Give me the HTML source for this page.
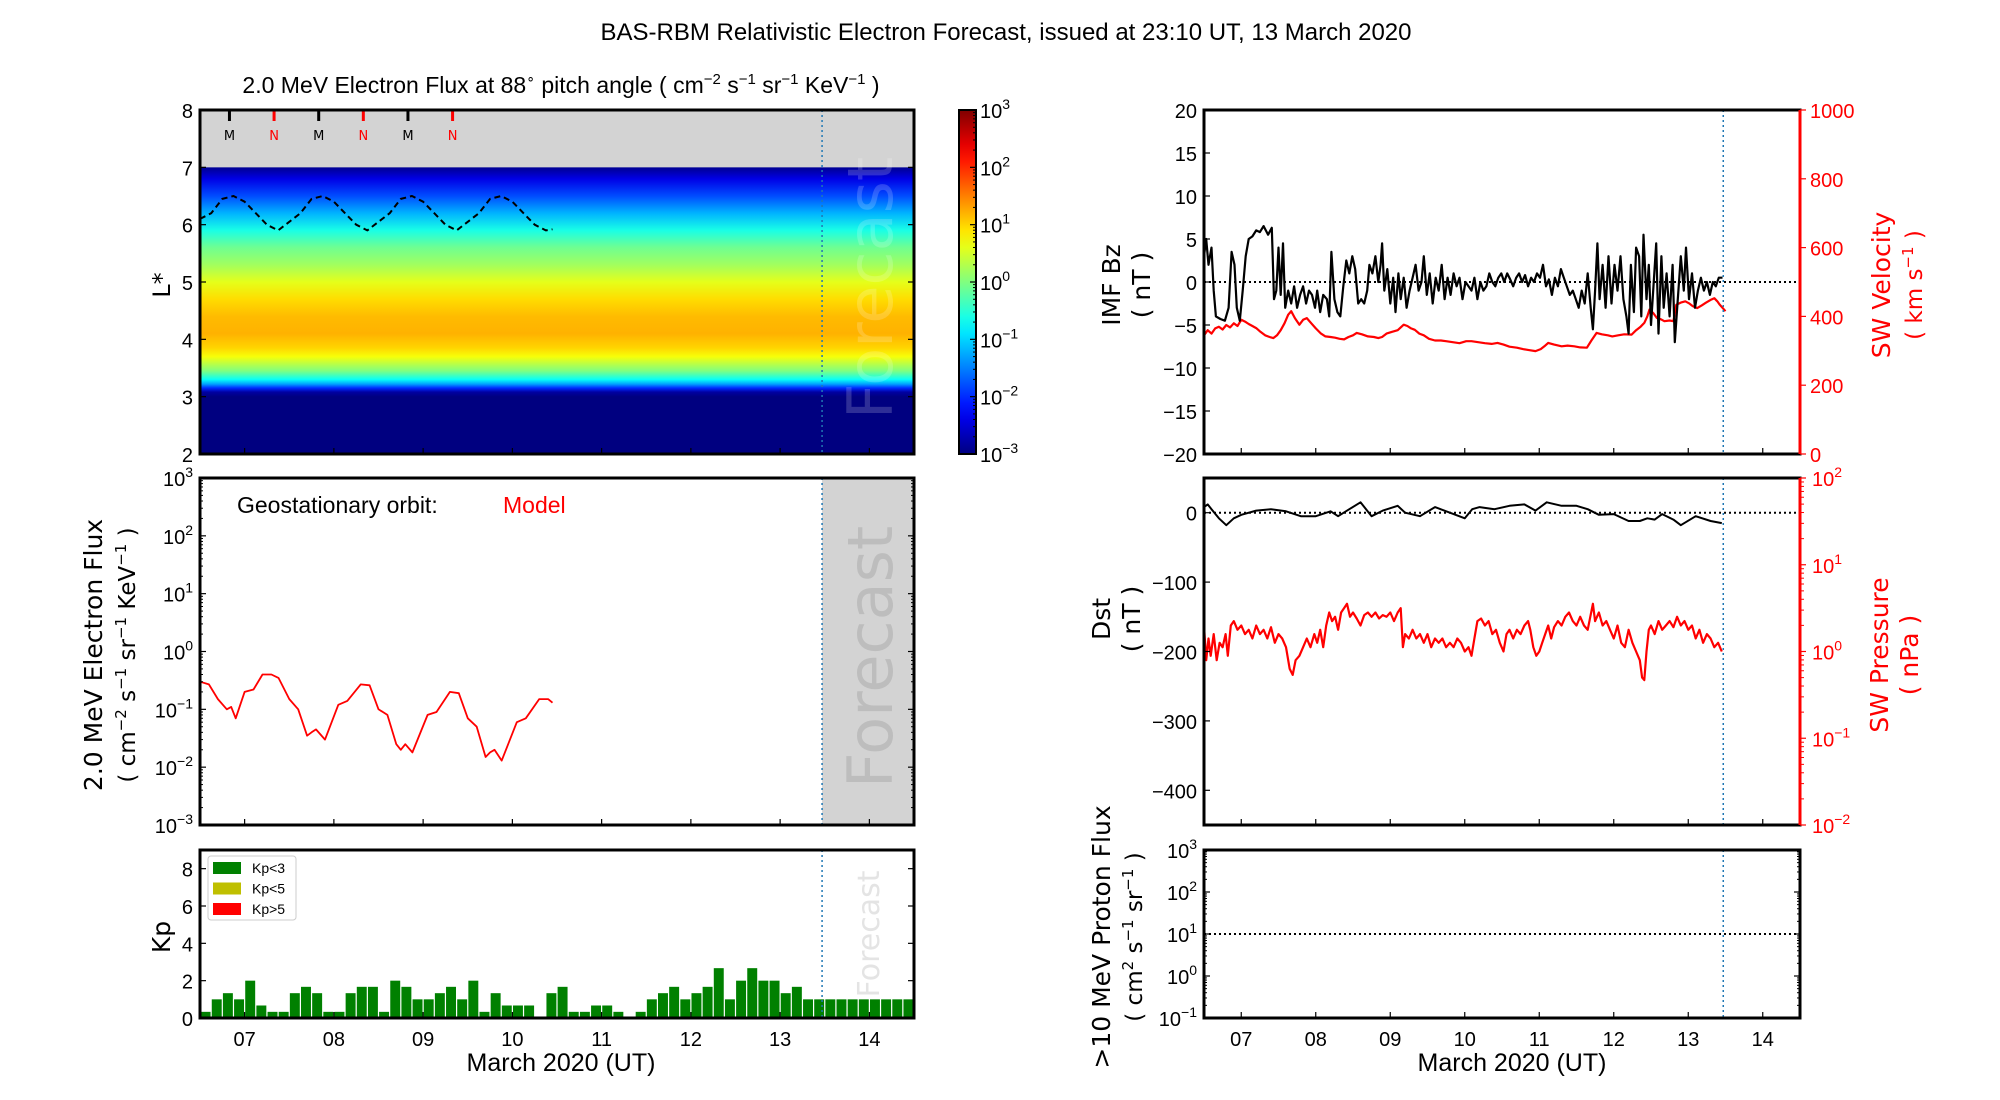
<!DOCTYPE html>
<html><head><meta charset="utf-8"><style>
html,body{margin:0;padding:0;background:#fff;}
svg{display:block;}
text{font-family:"Liberation Sans Narrow","Liberation Sans",sans-serif;}
.lab{font-family:"DejaVu Sans","Liberation Sans",sans-serif;}
</style></head><body>
<svg id="fig" width="2000" height="1100" viewBox="0 0 2000 1100" xmlns="http://www.w3.org/2000/svg">
<defs>
<linearGradient id="heatGrad" x1="0" y1="0" x2="0" y2="1"></linearGradient>
<linearGradient id="cbGrad" x1="0" y1="1" x2="0" y2="0"></linearGradient>
</defs>
<text x="1006" y="40" font-size="24" text-anchor="middle">BAS-RBM Relativistic Electron Forecast, issued at 23:10 UT, 13 March 2020</text>
<text x="561" y="93" font-size="23" text-anchor="middle">2.0 MeV Electron Flux at 88<tspan font-size="14" dy="-10">∘</tspan><tspan dy="10"> pitch angle ( cm</tspan><tspan font-size="15" dy="-9">−2</tspan><tspan dy="9"> s</tspan><tspan font-size="15" dy="-9">−1</tspan><tspan dy="9"> sr</tspan><tspan font-size="15" dy="-9">−1</tspan><tspan dy="9"> KeV</tspan><tspan font-size="15" dy="-9">−1</tspan><tspan dy="9"> )</tspan></text>
<g id="g"></g>
</svg>
<script>
// ---------- data ----------
const heatL   = [2.0, 3.0, 3.08, 3.15, 3.22, 3.3, 3.45, 3.7, 3.85, 4.1, 4.4, 4.7, 5.0, 5.3, 5.6, 5.9, 6.2, 6.5, 6.8, 7.0];
const heatLog = [-3, -3, -2.8, -2, -1.3, -0.7, 0, 0.7, 1.0, 1.2, 1.15, 0.95, 0.6, 0.2, -0.1, -0.6, -1.2, -1.8, -2.4, -2.9];
const geoT = [6.5,6.625,6.75,6.875,7.0,7.125,7.25,7.375,7.5,7.625,7.75,7.875,8.0,8.125,8.25,8.375,8.5,8.625,8.75,8.875,9.0,9.125,9.25,9.375,9.5,9.625,9.75,9.875,10.0,10.125,10.25,10.375,10.45];
const geoL = [6.1,6.2,6.45,6.5,6.4,6.2,6.0,5.9,6.05,6.2,6.45,6.5,6.4,6.2,6.0,5.9,6.05,6.2,6.45,6.5,6.4,6.2,6.0,5.9,6.05,6.2,6.45,6.5,6.4,6.2,6.0,5.9,5.92];
const mltT = [6.83, 7.33, 7.83, 8.33, 8.83, 9.33];
const mltLab = ["M","N","M","N","M","N"];
const efT = [6.5,6.6,6.7,6.8,6.85,6.9,7.0,7.1,7.2,7.3,7.38,7.5,7.6,7.7,7.75,7.8,7.9,8.05,8.15,8.3,8.4,8.5,8.6,8.7,8.75,8.8,8.88,9.05,9.15,9.3,9.4,9.5,9.6,9.7,9.75,9.8,9.88,10.05,10.15,10.3,10.4,10.45];
const efV = [0.3,0.27,0.15,0.1,0.11,0.07,0.2,0.22,0.4,0.4,0.35,0.15,0.1,0.035,0.04,0.045,0.03,0.12,0.14,0.27,0.26,0.1,0.08,0.025,0.02,0.025,0.018,0.08,0.09,0.2,0.19,0.07,0.05,0.015,0.018,0.02,0.013,0.06,0.07,0.15,0.15,0.13];
const kpVals = [0.33,1,1.33,1,2,0.67,0.33,0.33,1.33,1.67,1.33,0.33,0.33,1.33,1.67,1.67,0.33,2,1.67,1,1,1.33,1.67,1,2,0.33,1.33,0.67,0.67,0.67,0,1.33,1.67,0.33,0.33,0.67,0.67,0.33,0,0.33,1,1.33,1.67,1,1.33,1.67,2.67,1,2,2.67,2,2,1.33,1.67,1,1,1,1,1,1,1,1,1,1];
const bzT = [6.50,6.53,6.56,6.60,6.63,6.66,6.72,6.78,6.83,6.87,6.91,6.94,6.98,7.02,7.06,7.10,7.15,7.20,7.25,7.30,7.36,7.41,7.44,7.47,7.50,7.53,7.56,7.59,7.63,7.67,7.71,7.75,7.79,7.83,7.87,7.91,7.95,7.99,8.02,8.06,8.10,8.15,8.18,8.21,8.25,8.29,8.33,8.37,8.41,8.45,8.49,8.53,8.57,8.61,8.65,8.69,8.72,8.76,8.80,8.84,8.87,8.89,8.92,8.96,9.00,9.04,9.07,9.11,9.14,9.18,9.22,9.26,9.30,9.34,9.38,9.42,9.45,9.49,9.53,9.57,9.61,9.65,9.69,9.73,9.77,9.81,9.85,9.89,9.93,9.97,10.01,10.05,10.09,10.13,10.17,10.21,10.25,10.29,10.33,10.37,10.41,10.45,10.49,10.53,10.57,10.61,10.65,10.69,10.73,10.77,10.81,10.85,10.89,10.93,10.97,11.01,11.05,11.09,11.13,11.17,11.21,11.25,11.29,11.33,11.37,11.41,11.45,11.49,11.53,11.57,11.61,11.65,11.69,11.72,11.75,11.78,11.81,11.85,11.89,11.93,11.97,12.01,12.05,12.09,12.13,12.17,12.20,12.23,12.27,12.30,12.34,12.37,12.40,12.44,12.47,12.50,12.53,12.57,12.60,12.64,12.67,12.71,12.75,12.79,12.82,12.86,12.90,12.94,12.97,13.01,13.05,13.09,13.13,13.17,13.21,13.25,13.29,13.33,13.37,13.41,13.46];
const bzV = [3,5,2,4,-1,-4,-4.3,-4.5,-3,3.5,2,-3,-4.5,-1,3,5,5.3,6,5.8,6.5,5.5,6.3,-2,-1,4,-1.5,4.5,-3,-1,-2.5,-0.5,-3,-1.5,-0.5,-2.5,-1,-1.5,-3,-1,-3.5,-1.5,-2,-4,3.5,-2,-3.5,-4,-0.5,2.5,1,3,1.5,-2.5,-2,-2.5,-1,2,1,3,0,2,4.5,-1,1.5,-2.5,0.5,-3.5,1,-2,0.5,-3,-1,0.5,2,-1,0,3,-1.5,1,-2.5,0.5,-1,2,-2,0.5,-1.5,1,-0.5,0.5,-2,0,-0.5,-1,0.5,-2,0,-1,-0.5,1,0,-0.5,0.5,1,0,1,0.3,-0.5,0.5,1,0,0.8,-0.5,0.5,0,1,0.5,2,-0.5,0.3,-1.5,0.5,-0.5,1.5,0.5,-0.5,-1.5,-1,-2,-3,-1,-2.5,1,-3,-5.5,-1,4.5,-2,2,-3,3,-2.5,2,-1,3,-2,-4,-6,2,-3.5,4,3,-4,5.5,-2,2,-5,-1,4.5,-6,3,-3,1,-4,2,-7,-2,3,-1,4,-2,1,-3,-1,0.5,-1,0,-1.5,0,-0.5,0.5,0.5];
const vswT = [6.5,6.55,6.6,6.65,6.7,6.75,6.8,6.85,6.9,6.95,7.0,7.05,7.1,7.15,7.2,7.26,7.32,7.38,7.43,7.48,7.53,7.58,7.63,7.67,7.72,7.78,7.83,7.88,7.94,8.0,8.07,8.13,8.2,8.26,8.32,8.38,8.44,8.5,8.55,8.62,8.7,8.78,8.84,8.89,8.95,9.02,9.1,9.18,9.23,9.28,9.33,9.39,9.45,9.52,9.6,9.68,9.75,9.84,9.93,10.02,10.09,10.18,10.27,10.36,10.44,10.52,10.6,10.7,10.78,10.86,10.95,11.02,11.08,11.12,11.2,11.3,11.38,11.47,11.55,11.64,11.7,11.77,11.84,11.92,11.98,12.06,12.14,12.24,12.3,12.36,12.41,12.45,12.48,12.53,12.58,12.63,12.68,12.75,12.8,12.84,12.9,12.96,13.01,13.06,13.12,13.18,13.24,13.3,13.35,13.39,13.42,13.46,13.5];
const vswV = [345,360,350,365,370,362,375,368,380,372,390,385,378,372,366,355,345,340,337,345,360,380,405,415,395,376,390,395,380,365,350,342,340,338,335,333,340,345,352,348,342,340,337,340,350,355,360,376,372,365,361,350,345,335,330,330,328,325,322,328,328,325,322,320,323,318,312,309,305,302,299,305,315,323,318,313,315,313,310,309,330,352,348,345,342,345,348,347,360,370,381,400,420,410,395,392,386,388,386,434,440,444,438,430,424,432,440,448,453,444,435,425,415];
const dstT = [6.5,6.55,6.6,6.7,6.8,6.9,7.0,7.2,7.4,7.6,7.8,8.0,8.2,8.3,8.45,8.6,8.75,8.9,9.1,9.2,9.4,9.6,9.8,10.0,10.1,10.2,10.4,10.6,10.8,10.95,11.1,11.3,11.5,11.65,11.8,12.0,12.2,12.35,12.45,12.55,12.65,12.8,12.9,13.1,13.3,13.45];
const dstV = [8,12,5,-8,-18,-8,-3,3,5,2,-5,-5,2,-5,5,15,-5,3,10,0,-5,8,0,-8,5,8,5,10,12,3,15,10,10,5,-3,-2,-12,-12,-8,-10,-2,-10,-18,-5,-12,-15];
const pT = [6.50,6.53,6.56,6.59,6.63,6.67,6.71,6.75,6.79,6.82,6.86,6.90,6.95,7.0,7.05,7.1,7.15,7.2,7.25,7.3,7.35,7.4,7.45,7.5,7.55,7.6,7.65,7.69,7.73,7.78,7.83,7.88,7.93,7.98,8.02,8.06,8.1,8.14,8.18,8.22,8.26,8.3,8.34,8.38,8.42,8.46,8.5,8.55,8.6,8.65,8.7,8.75,8.8,8.85,8.9,8.95,9.0,9.05,9.1,9.14,9.17,9.2,9.25,9.3,9.35,9.4,9.45,9.5,9.55,9.6,9.65,9.7,9.75,9.8,9.85,9.9,9.95,10.0,10.05,10.09,10.13,10.17,10.22,10.27,10.32,10.37,10.42,10.47,10.52,10.56,10.6,10.65,10.7,10.75,10.8,10.85,10.88,10.92,10.96,11.0,11.04,11.08,11.12,11.16,11.2,11.25,11.3,11.35,11.4,11.45,11.5,11.55,11.6,11.65,11.72,11.75,11.8,11.85,11.9,11.95,12.0,12.05,12.1,12.15,12.2,12.25,12.3,12.35,12.38,12.41,12.44,12.47,12.5,12.55,12.6,12.65,12.7,12.75,12.8,12.85,12.9,12.95,13.0,13.05,13.1,13.15,13.2,13.25,13.3,13.35,13.4,13.45];
const pLog = [0.3,-0.1,0.15,-0.05,0.2,-0.1,0.1,0.05,0.2,-0.05,0.3,0.35,0.25,0.3,0.2,0.25,0.15,0.3,0.2,0.25,0.15,0.28,0.1,0.2,0.15,0.05,-0.2,-0.27,-0.1,-0.05,0.05,0.15,0.05,0.2,0.1,0.25,0.05,0.3,0.45,0.35,0.4,0.25,0.45,0.5,0.55,0.4,0.45,0.38,0.3,0.42,0.45,0.4,0.45,0.38,0.42,0.4,0.45,0.35,0.45,0.5,0.05,0.2,0.15,0.25,0.15,0.2,0.1,0.2,0.05,0.15,0.1,0.15,0.05,0.1,0.05,0.15,0.1,0.0,0.05,-0.05,0.15,0.35,0.38,0.3,0.35,0.2,0.25,0.1,0.0,0.2,0.25,0.15,0.25,0.2,0.3,0.35,0.25,0.05,-0.05,0.0,0.1,0.2,0.3,0.15,0.28,0.35,0.3,0.4,0.45,0.35,0.3,0.4,0.3,0.25,0.55,0.35,0.45,0.3,0.35,0.25,0.15,0.3,0.1,0.05,0.25,0.1,0.0,-0.1,-0.3,-0.33,0.0,0.25,0.3,0.2,0.35,0.25,0.3,0.35,0.28,0.4,0.3,0.35,0.25,0.3,0.15,0.25,0.1,0.2,0.15,0.05,0.1,0.0];
const dayTicks = [7,8,9,10,11,12,13,14];
const dayLabels = ["07","08","09","10","11","12","13","14"];
const forecastDay = 13.47;

// ---------- scales ----------
const xL = d => 200 + (d - 6.5) * 89.25;
const xR = d => 1204 + (d - 6.5) * 74.5;
const yHeat = L => 110 + (8 - L) * (344 / 6);
const yEf = v => 478 + (3 - Math.log10(v)) * (347 / 6);
const yKp = k => 1018 - k * (168 / 9);
const yBz = v => 110 + (20 - v) * (344 / 40);
const yVsw = v => 454 - v * (344 / 1000);
const yDst = v => 478 + (50 - v) * (347 / 500);
const yP = l => 478 + (2 - l) * (347 / 4);
const yProt = l => 850 + (3 - l) * (168 / 4);

const NS = "http://www.w3.org/2000/svg";
const G = document.getElementById("g");
function el(tag, attrs, parent) {
  const e = document.createElementNS(NS, tag);
  for (const k in attrs) e.setAttribute(k, attrs[k]);
  (parent || G).appendChild(e);
  return e;
}
function jet(v) {
  const c = x => Math.max(0, Math.min(1, x));
  const r = c(1.5 - Math.abs(4 * v - 3)), g = c(1.5 - Math.abs(4 * v - 2)), b = c(1.5 - Math.abs(4 * v - 1));
  return "rgb(" + Math.round(r * 255) + "," + Math.round(g * 255) + "," + Math.round(b * 255) + ")";
}
function txt(x, y, s, size, anchor, fill, cls) {
  const t = el("text", {x: x, y: y, "font-size": size, "text-anchor": anchor || "start", fill: fill || "#000"});
  if (cls) t.setAttribute("class", cls);
  t.textContent = s;
  return t;
}
function pow10(x, y, e, fill, anchor) {
  const t = el("text", {x: x, y: y, "font-size": 20, "text-anchor": anchor || "end", fill: fill || "#000"});
  
  
  const a = document.createElementNS(NS, "tspan"); a.textContent = "10"; t.appendChild(a);
  const b = document.createElementNS(NS, "tspan"); b.setAttribute("font-size", "14"); b.setAttribute("dy", "-9");
  b.textContent = e; t.appendChild(b);
  return t;
}
function vlab(x, y, s, size, fill) {
  const t = el("text", {x: 0, y: 0, "font-size": size, "text-anchor": "middle", fill: fill || "#000", transform: "translate(" + x + "," + y + ") rotate(-90)", "class": "lab"});
  t.textContent = s;
  return t;
}
function line(pts, color, w, extra) {
  return el("polyline", Object.assign({points: pts.map(q => q[0].toFixed(1) + "," + q[1].toFixed(1)).join(" "), fill: "none", stroke: color, "stroke-width": w, "stroke-linejoin": "round"}, extra || {}));
}
function frame(x0, y0, x1, y1, name) {
  const r = el("rect", {x: x0, y: y0, width: x1 - x0, height: y1 - y0, fill: "none", stroke: "#000", "stroke-width": 3});
  
  
}
function xTicks(xf, y0, y1, labels) {
  dayTicks.forEach((d, i) => {
    el("line", {x1: xf(d), x2: xf(d), y1: y1, y2: y1 - 6, stroke: "#000", "stroke-width": 1.2});
    if (labels) {
      const t = txt(xf(d), y1 + 28, dayLabels[i], 20, "middle");
      
      
    }
  });
}
function logMinor(xl, xr, yf, lo, hi, side) {
  for (let e = lo; e < hi; e++) for (let m = 2; m < 10; m++) {
    const y = yf(e + Math.log10(m));
    if (side !== "right") el("line", {x1: xl, x2: xl + 3, y1: y, y2: y, stroke: "#000", "stroke-width": 1});
    el("line", {x1: xr, x2: xr - 3, y1: y, y2: y, stroke: "#000", "stroke-width": 1});
  }
}

// ---------- Heatmap panel ----------
const hg = document.getElementById("heatGrad");
for (let i = heatL.length - 1; i >= 0; i--) {
  const s = document.createElementNS(NS, "stop");
  s.setAttribute("offset", ((7 - heatL[i]) / 5).toFixed(4));
  s.setAttribute("stop-color", jet((heatLog[i] + 3) / 6));
  hg.appendChild(s);
}
el("rect", {x: 200, y: 110, width: 714, height: yHeat(7) - 110, fill: "#d3d3d3"});
const heat = el("rect", {x: 200, y: yHeat(7), width: 714, height: yHeat(2) - yHeat(7), fill: "url(#heatGrad)"});


const fc1 = el("text", {x: 0, y: 0, "font-size": 62, fill: "#fff", "fill-opacity": 0.18, "text-anchor": "middle", "class": "lab", transform: "translate(892,288) rotate(-90)"});
fc1.textContent = "Forecast";


const geo = line(geoT.map((t, i) => [xL(t), yHeat(geoL[i])]), "#000", 2, {"stroke-dasharray": "6,4"});


mltT.forEach((t, i) => {
  const c = mltLab[i] === "M" ? "#000" : "#f00";
  el("line", {x1: xL(t), x2: xL(t), y1: 110, y2: 121, stroke: c, "stroke-width": 3});
  const m = txt(xL(t), 140, mltLab[i], 13, "middle", c, "lab");
  
  
});
el("line", {x1: xL(forecastDay), x2: xL(forecastDay), y1: 110, y2: 454, stroke: "#1f77b4", "stroke-width": 1.5, "stroke-dasharray": "2,3"});
frame(200, 110, 914, 454, "heatmap-frame");
[2,3,4,5,6,7,8].forEach(L => {
  el("line", {x1: 200, x2: 206, y1: yHeat(L), y2: yHeat(L), stroke: "#000", "stroke-width": 1.2});
  el("line", {x1: 914, x2: 908, y1: yHeat(L), y2: yHeat(L), stroke: "#000", "stroke-width": 1.2});
  const t = txt(193, yHeat(L) + 8, String(L), 20, "end");
  
  
});
xTicks(xL, 110, 454, false);
const ls = vlab(170, 285, "L*", 24);  

// Colorbar
const cg = document.getElementById("cbGrad");
for (let i = 0; i <= 20; i++) {
  const s = document.createElementNS(NS, "stop");
  s.setAttribute("offset", (i / 20).toFixed(3));
  s.setAttribute("stop-color", jet(i / 20));
  cg.appendChild(s);
}
const cb = el("rect", {x: 959, y: 110, width: 17, height: 344, fill: "url(#cbGrad)", stroke: "#000", "stroke-width": 2});


const yCb = l => 454 - (l + 3) * (344 / 6);
[-3,-2,-1,0,1,2,3].forEach(e => {
  el("line", {x1: 970, x2: 976, y1: yCb(e), y2: yCb(e), stroke: "#000", "stroke-width": 1.2});
  pow10(980, yCb(e) + 8, e < 0 ? "−" + (-e) : String(e), "#000", "start");
});
for (let e = -3; e < 3; e++) for (let m = 2; m < 10; m++) el("line", {x1: 973, x2: 976, y1: yCb(e + Math.log10(m)), y2: yCb(e + Math.log10(m)), stroke: "#000", "stroke-width": 1});

// ---------- Electron flux panel ----------
el("rect", {x: xL(forecastDay), y: 478, width: 914 - xL(forecastDay), height: 347, fill: "#d3d3d3"});
const fc2 = el("text", {x: 0, y: 0, "font-size": 62, fill: "#bdbdbd", "text-anchor": "middle", "class": "lab", transform: "translate(892,657) rotate(-90)"});
fc2.textContent = "Forecast";


el("line", {x1: xL(forecastDay), x2: xL(forecastDay), y1: 478, y2: 825, stroke: "#1f77b4", "stroke-width": 1.5, "stroke-dasharray": "2,3"});
const ef = line(efT.map((t, i) => [xL(t), yEf(efV[i])]), "#f00", 1.8);


frame(200, 478, 914, 825, "electron-flux-frame");
[-3,-2,-1,0,1,2,3].forEach(e => {
  const y = yEf(Math.pow(10, e));
  el("line", {x1: 200, x2: 206, y1: y, y2: y, stroke: "#000", "stroke-width": 1.2});
  el("line", {x1: 914, x2: 908, y1: y, y2: y, stroke: "#000", "stroke-width": 1.2});
  pow10(193, y + 8, e < 0 ? "−" + (-e) : String(e));
});
logMinor(200, 914, l => yEf(Math.pow(10, l)), -3, 3);
xTicks(xL, 478, 825, false);
const go = txt(237, 513, "Geostationary orbit:", 23, "start");  
const md = txt(503, 513, "Model", 23, "start", "#f00");  
const efl = vlab(102, 655, "2.0 MeV Electron Flux", 25);  
const efu = el("text", {x: 0, y: 0, "font-size": 23, "text-anchor": "middle", "class": "lab", transform: "translate(135,655) rotate(-90)"});
efu.innerHTML = '( cm<tspan font-size="15" dy="-9">−2</tspan><tspan dy="9"> s</tspan><tspan font-size="15" dy="-9">−1</tspan><tspan dy="9"> sr</tspan><tspan font-size="15" dy="-9">−1</tspan><tspan dy="9"> KeV</tspan><tspan font-size="15" dy="-9">−1</tspan><tspan dy="9"> )</tspan>';



// ---------- Kp panel ----------
const fc3 = el("text", {x: 0, y: 0, "font-size": 30, fill: "#e4e4e4", "text-anchor": "middle", "class": "lab", transform: "translate(879,934) rotate(-90)"});
fc3.textContent = "Forecast";


const bw = 89.25 / 8;
kpVals.forEach((k, i) => {
  const t0 = 6.5 + i * 0.125;
  const color = k < 3 ? "#008000" : (k < 5 ? "#bfbf00" : "#f00");
  const b = el("rect", {x: xL(t0) + 0.6, y: yKp(k), width: bw - 1.2, height: yKp(0) - yKp(k), fill: color});
  
  
});
el("line", {x1: xL(forecastDay), x2: xL(forecastDay), y1: 850, y2: 1018, stroke: "#1f77b4", "stroke-width": 1.5, "stroke-dasharray": "2,3"});
frame(200, 850, 914, 1018, "kp-frame");
[0,2,4,6,8].forEach(k => {
  el("line", {x1: 200, x2: 206, y1: yKp(k), y2: yKp(k), stroke: "#000", "stroke-width": 1.2});
  el("line", {x1: 914, x2: 908, y1: yKp(k), y2: yKp(k), stroke: "#000", "stroke-width": 1.2});
  const t = txt(193, yKp(k) + 8, String(k), 20, "end");
  
  
});
xTicks(xL, 850, 1018, true);
const kpl = vlab(170, 937, "Kp", 25);  
const leg = el("g", {});


el("rect", {x: 208, y: 856, width: 88, height: 64, fill: "#fff", stroke: "#ccc", "stroke-width": 1, rx: 3}, leg);
[["Kp<3", "#008000"], ["Kp<5", "#bfbf00"], ["Kp>5", "#f00"]].forEach((e, i) => {
  const r = el("rect", {x: 213, y: 862 + i * 20.5, width: 28, height: 12, fill: e[1]}, leg);
  
  
  const t = el("text", {x: 252, y: 873 + i * 20.5, "font-size": 14}, leg);
  t.textContent = e[0];
});
const xl1 = txt(561, 1071, "March 2020 (UT)", 25, "middle");  

// ---------- IMF Bz / SW velocity panel ----------
el("line", {x1: 1204, x2: 1800, y1: yBz(0), y2: yBz(0), stroke: "#000", "stroke-width": 2, "stroke-dasharray": "2,3"});
const vs = line(vswT.map((t, i) => [xR(t), yVsw(vswV[i])]), "#f00", 2.2);


const bz = line(bzT.map((t, i) => [xR(t), yBz(bzV[i])]), "#000", 2.2);


el("line", {x1: xR(forecastDay), x2: xR(forecastDay), y1: 110, y2: 454, stroke: "#1f77b4", "stroke-width": 1.5, "stroke-dasharray": "2,3"});
el("rect", {x: 1204, y: 110, width: 596, height: 344, fill: "none", stroke: "#000", "stroke-width": 3});
el("line", {x1: 1800, x2: 1800, y1: 110, y2: 454, stroke: "#f00", "stroke-width": 3});
[-20,-15,-10,-5,0,5,10,15,20].forEach(v => {
  el("line", {x1: 1204, x2: 1210, y1: yBz(v), y2: yBz(v), stroke: "#000", "stroke-width": 1.2});
  const t = txt(1197, yBz(v) + 8, v < 0 ? "−" + (-v) : String(v), 20, "end");
  
  
});
[0,200,400,600,800,1000].forEach(v => {
  el("line", {x1: 1800, x2: 1806, y1: yVsw(v), y2: yVsw(v), stroke: "#f00", "stroke-width": 1.2});
  const t = txt(1810, yVsw(v) + 8, String(v), 20, "start", "#f00");
  
  
});
xTicks(xR, 110, 454, false);
const b1 = vlab(1120, 285, "IMF Bz", 25);  
const b2 = vlab(1150, 285, "( nT )", 25);  
const v1 = vlab(1890, 285, "SW Velocity", 25, "#f00");  
const v2 = el("text", {x: 0, y: 0, "font-size": 23, "text-anchor": "middle", fill: "#f00", "class": "lab", transform: "translate(1922,285) rotate(-90)"});
v2.innerHTML = '( km s<tspan font-size="15" dy="-9">−1</tspan><tspan dy="9"> )</tspan>';



// ---------- Dst / pressure panel ----------
el("line", {x1: 1204, x2: 1800, y1: yDst(0), y2: yDst(0), stroke: "#000", "stroke-width": 2, "stroke-dasharray": "2,3"});
const pr = line(pT.map((t, i) => [xR(t), yP(pLog[i])]), "#f00", 2.2);


const ds = line(dstT.map((t, i) => [xR(t), yDst(dstV[i])]), "#000", 2);


el("line", {x1: xR(forecastDay), x2: xR(forecastDay), y1: 478, y2: 825, stroke: "#1f77b4", "stroke-width": 1.5, "stroke-dasharray": "2,3"});
el("rect", {x: 1204, y: 478, width: 596, height: 347, fill: "none", stroke: "#000", "stroke-width": 3});
el("line", {x1: 1800, x2: 1800, y1: 478, y2: 825, stroke: "#f00", "stroke-width": 3});
[0,-100,-200,-300,-400].forEach(v => {
  el("line", {x1: 1204, x2: 1210, y1: yDst(v), y2: yDst(v), stroke: "#000", "stroke-width": 1.2});
  const t = txt(1197, yDst(v) + 8, v < 0 ? "−" + (-v) : String(v), 20, "end");
  
  
});
[-2,-1,0,1,2].forEach(e => {
  el("line", {x1: 1800, x2: 1806, y1: yP(e), y2: yP(e), stroke: "#f00", "stroke-width": 1.2});
  pow10(1812, yP(e) + 8, e < 0 ? "−" + (-e) : String(e), "#f00", "start");
});
for (let e = -2; e < 2; e++) for (let m = 2; m < 10; m++) el("line", {x1: 1800, x2: 1804, y1: yP(e + Math.log10(m)), y2: yP(e + Math.log10(m)), stroke: "#f00", "stroke-width": 1});
xTicks(xR, 478, 825, false);
const d1 = vlab(1110, 619, "Dst", 25);  
const d2 = vlab(1140, 619, "( nT )", 25);  
const p1 = vlab(1888, 655, "SW Pressure", 25, "#f00");  
const p2 = vlab(1918, 655, "( nPa )", 25, "#f00");  

// ---------- Proton flux panel ----------
el("line", {x1: 1204, x2: 1800, y1: yProt(1), y2: yProt(1), stroke: "#000", "stroke-width": 2, "stroke-dasharray": "2,3"});
el("line", {x1: xR(forecastDay), x2: xR(forecastDay), y1: 850, y2: 1018, stroke: "#1f77b4", "stroke-width": 1.5, "stroke-dasharray": "2,3"});
frame(1204, 850, 1800, 1018, "proton-flux-frame");
[-1,0,1,2,3].forEach(e => {
  el("line", {x1: 1204, x2: 1210, y1: yProt(e), y2: yProt(e), stroke: "#000", "stroke-width": 1.2});
  el("line", {x1: 1800, x2: 1794, y1: yProt(e), y2: yProt(e), stroke: "#000", "stroke-width": 1.2});
  pow10(1197, yProt(e) + 8, e < 0 ? "−" + (-e) : String(e));
});
logMinor(1204, 1800, yProt, -1, 3);
xTicks(xR, 850, 1018, true);
const pp1 = vlab(1110, 937, ">10 MeV Proton Flux", 25);  
const pp2 = el("text", {x: 0, y: 0, "font-size": 23, "text-anchor": "middle", "class": "lab", transform: "translate(1142,937) rotate(-90)"});
pp2.innerHTML = '( cm<tspan font-size="15" dy="-9">2</tspan><tspan dy="9"> s</tspan><tspan font-size="15" dy="-9">−1</tspan><tspan dy="9"> sr</tspan><tspan font-size="15" dy="-9">−1</tspan><tspan dy="9"> )</tspan>';


const xl2 = txt(1512, 1071, "March 2020 (UT)", 25, "middle");  
</script>
</body></html>
